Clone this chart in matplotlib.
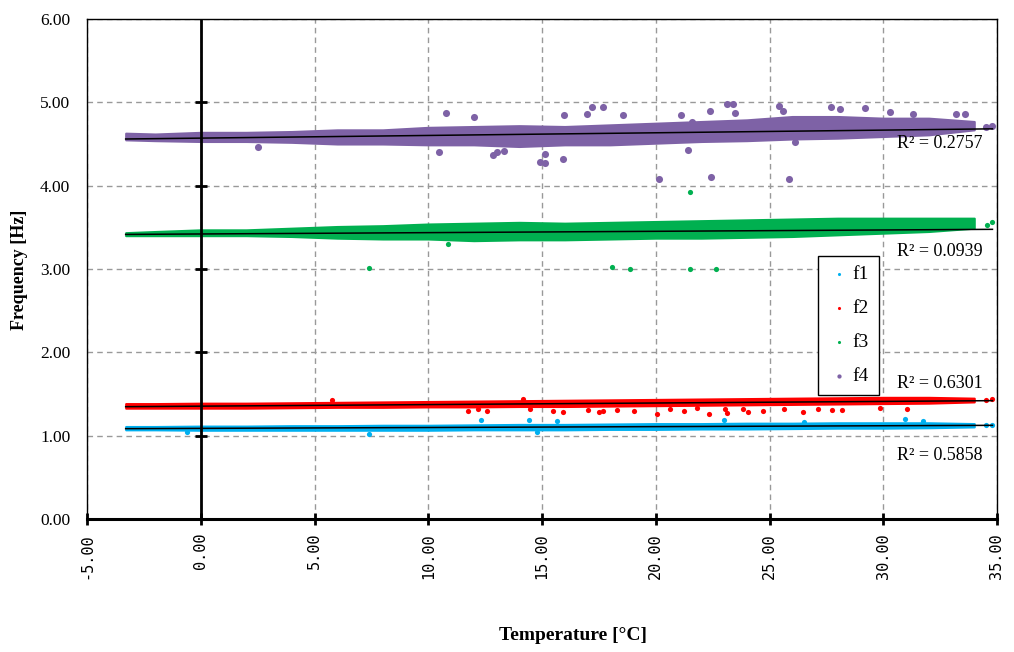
import numpy as np
import matplotlib.pyplot as plt

temp = [-3.3, -2, 0, 2, 4, 6, 8, 10, 12, 14, 16, 18, 20, 22, 24, 26, 28, 30, 32, 34]

# outer edges of each dense band of points, per mode
f1_lo = [1.07, 1.07, 1.065, 1.065, 1.065, 1.065, 1.065, 1.065, 1.07, 1.07, 1.07, 1.075, 1.075, 1.08, 1.08, 1.085, 1.09, 1.09, 1.095, 1.105]
f1_hi = [1.11, 1.11, 1.115, 1.115, 1.12, 1.12, 1.125, 1.125, 1.13, 1.135, 1.135, 1.14, 1.145, 1.145, 1.15, 1.15, 1.155, 1.155, 1.155, 1.145]
f2_lo = [1.33, 1.33, 1.33, 1.33, 1.335, 1.34, 1.34, 1.345, 1.345, 1.35, 1.35, 1.355, 1.36, 1.365, 1.37, 1.375, 1.38, 1.385, 1.39, 1.405]
f2_hi = [1.385, 1.385, 1.39, 1.39, 1.395, 1.40, 1.405, 1.41, 1.415, 1.42, 1.425, 1.43, 1.435, 1.44, 1.445, 1.45, 1.455, 1.46, 1.46, 1.45]
f3_lo = [3.40, 3.40, 3.40, 3.40, 3.39, 3.37, 3.36, 3.36, 3.34, 3.35, 3.35, 3.36, 3.37, 3.37, 3.38, 3.39, 3.41, 3.43, 3.45, 3.49]
f3_hi = [3.436, 3.45, 3.47, 3.47, 3.49, 3.51, 3.52, 3.54, 3.55, 3.56, 3.55, 3.56, 3.57, 3.58, 3.59, 3.60, 3.61, 3.61, 3.61, 3.61]
f4_lo = [4.55, 4.54, 4.53, 4.53, 4.52, 4.50, 4.50, 4.49, 4.49, 4.47, 4.49, 4.49, 4.51, 4.53, 4.54, 4.56, 4.57, 4.59, 4.61, 4.67]
f4_hi = [4.63, 4.62, 4.64, 4.64, 4.65, 4.67, 4.67, 4.70, 4.71, 4.72, 4.71, 4.73, 4.75, 4.77, 4.79, 4.83, 4.83, 4.81, 4.81, 4.77]

# stray points outside the bands
f1_out_x = [-0.59, 7.41, 12.32, 14.44, 14.8, 15.67, 23.0, 26.52, 30.96, 31.73, 34.5, 34.8]
f1_out_y = [1.044, 1.016, 1.188, 1.188, 1.044, 1.176, 1.188, 1.168, 1.20, 1.18, 1.13, 1.13]
f2_out_x = [5.75, 11.73, 12.2, 12.57, 14.15, 14.47, 15.47, 15.91, 17.0, 17.52, 17.67, 18.31, 19.04, 20.04,
            20.63, 21.25, 21.8, 22.35, 23.05, 23.12, 23.82, 24.07, 24.73, 25.65, 26.49, 27.15, 27.73,
            28.2, 29.86, 31.03, 34.5, 34.8]
f2_out_y = [1.428, 1.296, 1.316, 1.296, 1.44, 1.316, 1.30, 1.288, 1.308, 1.28, 1.30, 1.308, 1.30, 1.256,
            1.316, 1.30, 1.328, 1.26, 1.316, 1.268, 1.316, 1.284, 1.30, 1.32, 1.288, 1.32, 1.312,
            1.304, 1.336, 1.32, 1.43, 1.44]
f3_out_x = [7.38, 10.85, 18.06, 18.87, 21.5, 21.5, 22.65, 34.55, 34.8]
f3_out_y = [3.016, 3.30, 3.02, 3.0, 3.0, 3.92, 3.0, 3.53, 3.56]
f4_out_x = [2.5, 10.49, 10.8, 12.03, 12.85, 13.0, 13.35, 14.9, 15.13, 15.13, 15.94, 15.98, 16.96, 17.2,
            17.7, 18.55, 20.16, 21.1, 21.4, 21.6, 22.4, 22.45, 23.13, 23.38, 23.5, 25.4, 25.6, 25.86,
            26.1, 27.7, 28.1, 29.2, 30.3, 31.3, 33.2, 33.6, 34.5, 34.8]
f4_out_y = [4.47, 4.41, 4.87, 4.82, 4.37, 4.40, 4.42, 4.29, 4.27, 4.38, 4.32, 4.85, 4.86, 4.95,
            4.94, 4.85, 4.08, 4.85, 4.43, 4.77, 4.90, 4.10, 4.98, 4.98, 4.87, 4.96, 4.90, 4.08,
            4.52, 4.94, 4.92, 4.93, 4.89, 4.86, 4.86, 4.86, 4.70, 4.72]

# linear trendlines (intercept, slope) and R²
trend = {'f1': (1.0875, 0.00105), 'f2': (1.354, 0.0019), 'f3': (3.4203, 0.0016), 'f4': (4.5706, 0.0032)}
r2 = {'f1': '0.5858', 'f2': '0.6301', 'f3': '0.0939', 'f4': '0.2757'}
r2_y = {'f1': 0.768, 'f2': 1.632, 'f3': 3.216, 'f4': 4.51}
trend_x = [-3.3, 34.8]

series = [
    ('f1', '#00B0F0', f1_lo, f1_hi, f1_out_x, f1_out_y, 14),
    ('f2', '#FF0000', f2_lo, f2_hi, f2_out_x, f2_out_y, 14),
    ('f3', '#00B050', f3_lo, f3_hi, f3_out_x, f3_out_y, 14),
    ('f4', '#7E62A6', f4_lo, f4_hi, f4_out_x, f4_out_y, 26),
]

serif = 'Liberation Serif'

fig = plt.figure(figsize=(10.14, 6.52), dpi=100)
ax = fig.add_axes([87 / 1014, 1 - 519 / 652, 910 / 1014, 500 / 652])

handles = []
for name, col, lo, hi, ox, oy, s in series:
    # dense cloud as a filled band, soft edge from a thin outline
    ax.fill_between(temp, lo, hi, color=col, lw=1.5, edgecolor=col, zorder=2)
    h = ax.scatter(ox, oy, s=s, color=col, lw=0, zorder=2, label=name)
    handles.append(h)

for name in ['f1', 'f2', 'f3', 'f4']:
    b, m = trend[name]
    ax.plot(trend_x, [b + m * x for x in trend_x], color='black', lw=1.1, zorder=3)
    ax.text(30.6, r2_y[name], 'R² = ' + r2[name], family=serif, fontsize=13, va='center', ha='left')

ax.set_xlim(-5, 35)
ax.set_ylim(0, 6)
xt = np.arange(-5, 36, 5)
yt = np.arange(0, 7, 1)
ax.set_xticks(xt)
ax.set_yticks(yt)
ax.set_xticklabels(['%.2f' % v for v in xt], rotation=90, family='DejaVu Sans Mono', fontsize=11)
ax.set_yticklabels(['%.2f' % v for v in yt], family=serif, fontsize=12.5)
ax.tick_params(length=0, pad=10)
ax.tick_params(axis='y', pad=12)
ax.grid(True, ls=(0, (4, 3)), color='#999999', lw=1)
ax.set_axisbelow(True)

for sp in ax.spines.values():
    sp.set_linewidth(1)
ax.spines['bottom'].set_linewidth(2.2)

# axis lines through zero with crossing ticks
ax.axvline(0, color='black', lw=2, zorder=4)
ax.plot([0] * len(yt[1:-1]), yt[1:-1], ls='none', marker='_', ms=9, mew=2, color='black', zorder=4, clip_on=False)
ax.plot(xt, [0] * len(xt), ls='none', marker='|', ms=9, mew=2, color='black', zorder=4, clip_on=False)

leg = ax.legend(handles=handles, loc='upper left', bbox_to_anchor=(808 / 1014, 1 - 246 / 652),
                bbox_transform=fig.transFigure, prop={'family': serif, 'size': 14},
                fancybox=False, edgecolor='black', framealpha=1, markerscale=0.6,
                labelspacing=0.85, handletextpad=0.1, handlelength=1.2, borderpad=0.5)
leg.get_frame().set_linewidth(1)

fig.text(573 / 1014, 1 - 635 / 652, 'Temperature [°C]', family=serif, fontweight='bold', fontsize=14,
         ha='center', va='center')
fig.text(20 / 1014, 1 - 270 / 652, 'Frequency [Hz]', family=serif, fontweight='bold', fontsize=13,
         ha='center', va='center', rotation=90)

fig.savefig('out.png', dpi=100)
